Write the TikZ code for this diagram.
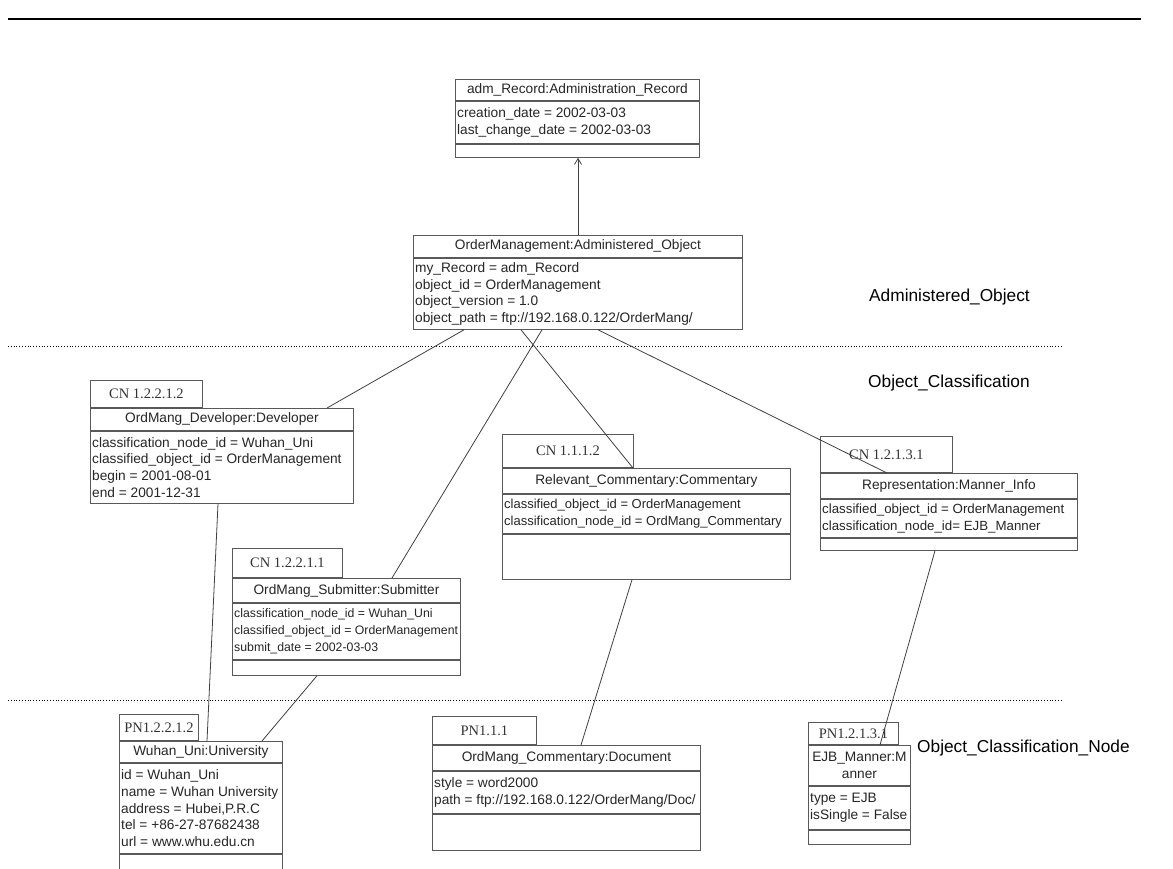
\documentclass[tikz,border=0pt]{standalone}
\usepackage{fontspec}
\newfontfamily\umlfont{Liberation Sans}
\newfontfamily\tabfont{Liberation Serif}
\usetikzlibrary{arrows.meta}

\begin{document}
\begin{tikzpicture}[x=1pt, y=-1pt,
    comp/.style  ={draw=black!65, line width=0.9pt, fill=white, anchor=north west, inner sep=0pt,
                   font=\umlfont\fontsize{13.7}{16.7}\selectfont, text=black!85},
    attr/.style  ={anchor=west, align=left, inner sep=0pt, text=black!85,
                   font=\umlfont\fontsize{#1}{16.7}\selectfont},
    attr/.default=13.7,
    tabbox/.style={draw=black!65, line width=0.9pt, fill=white, anchor=south west, inner sep=0pt,
                   font=\tabfont\fontsize{14.5}{16}\selectfont, text=black!80},
    conn/.style  ={draw=black!75, line width=0.8pt},
    layer/.style ={anchor=west, inner sep=0pt, font=\umlfont\fontsize{17.3}{20}\selectfont},
  ]
  \useasboundingbox (0,0) rectangle (1173,868);
  \draw[line width=2.5pt] (8,19) -- (1141,19);

  % layer separators and names
  \draw[dotted, line width=0.8pt] (8,346) -- (1063,346);
  \draw[dotted, line width=0.8pt] (8,700) -- (1063,700);
  \node[layer] (lao) at (869,297) {Administered\_Object};
  \node[layer] (loc) at (868,383) {Object\_Classification};
  \node[layer] (locn) at (917,748) {Object\_Classification\_Node};

  % adm_Record
  \node[comp, minimum width=244pt, minimum height=21pt] (admt) at (455,79) {adm\_Record:Administration\_Record};
  \node[comp, minimum width=244pt, minimum height=42pt] (adma) at (admt.south west) {};
  \node[attr] at ([xshift=2pt]adma.west) {creation\_date = 2002-03-03\\last\_change\_date = 2002-03-03};
  \node[comp, minimum width=244pt, minimum height=13pt] (admo) at (adma.south west) {};

  % OrderManagement
  \node[comp, minimum width=329pt, minimum height=22pt] (omt) at (413,235) {OrderManagement:Administered\_Object};
  \node[comp, minimum width=329pt, minimum height=71pt] (oma) at (omt.south west) {};
  \node[attr] at ([xshift=2pt]oma.west) {my\_Record = adm\_Record\\object\_id = OrderManagement\\object\_version = 1.0\\object\_path = ftp://192.168.0.122/OrderMang/};

  % Developer
  \node[comp, minimum width=263pt, minimum height=22pt] (devt) at (90,408) {OrdMang\_Developer:Developer};
  \node[tabbox, minimum width=112pt, minimum height=27pt] (devtab) at (devt.north west) {CN 1.2.2.1.2};
  \node[comp, minimum width=263pt, minimum height=72pt] (deva) at (devt.south west) {};
  \node[attr] at ([xshift=2pt]deva.west) {classification\_node\_id = Wuhan\_Uni\\classified\_object\_id = OrderManagement\\begin = 2001-08-01\\end = 2001-12-31};

  % Submitter
  \node[comp, minimum width=228pt, minimum height=24pt] (subt) at (232,578) {OrdMang\_Submitter:Submitter};
  \node[tabbox, minimum width=110pt, minimum height=29pt] (subtab) at (subt.north west) {CN 1.2.2.1.1};
  \node[comp, minimum width=228pt, minimum height=56pt] (suba) at (subt.south west) {};
  \node[attr=12.3] at ([xshift=2pt]suba.west) {classification\_node\_id = Wuhan\_Uni\\classified\_object\_id = OrderManagement\\submit\_date = 2002-03-03};
  \node[comp, minimum width=228pt, minimum height=15pt] (subo) at (suba.south west) {};

  % Commentary
  \node[comp, minimum width=288pt, minimum height=25pt] (comt) at (502,468) {Relevant\_Commentary:Commentary};
  \node[tabbox, minimum width=131pt, minimum height=33pt] (comtab) at (comt.north west) {CN 1.1.1.2};
  \node[comp, minimum width=288pt, minimum height=39pt] (coma) at (comt.south west) {};
  \node[attr=13] at ([xshift=2pt]coma.west) {classified\_object\_id = OrderManagement\\classification\_node\_id = OrdMang\_Commentary};
  \node[comp, minimum width=288pt, minimum height=45pt] (como) at (coma.south west) {};

  % Manner_Info
  \node[comp, minimum width=257pt, minimum height=25pt] (mant) at (820,473) {Representation:Manner\_Info};
  \node[tabbox, minimum width=132pt, minimum height=36pt] (mantab) at (mant.north west) {CN 1.2.1.3.1};
  \node[comp, minimum width=257pt, minimum height=38pt] (mana) at (mant.south west) {};
  \node[attr=13.3] at ([xshift=2pt]mana.west) {classified\_object\_id = OrderManagement\\classification\_node\_id= EJB\_Manner};
  \node[comp, minimum width=257pt, minimum height=12pt] (mano) at (mana.south west) {};

  % University
  \node[comp, minimum width=163pt, minimum height=21pt] (unit) at (119,741) {Wuhan\_Uni:University};
  \node[tabbox, minimum width=79pt, minimum height=26pt] (unitab) at (unit.north west) {PN1.2.2.1.2};
  \node[comp, minimum width=163pt, minimum height=90pt] (unia) at (unit.south west) {};
  \node[attr] at ([xshift=2pt]unia.west) {id = Wuhan\_Uni\\name = Wuhan University\\address = Hubei,P.R.C\\tel = +86-27-87682438\\url = www.whu.edu.cn};
  \node[comp, minimum width=163pt, minimum height=15pt] (unio) at (unia.south west) {};

  % Document
  \node[comp, minimum width=268pt, minimum height=25pt] (doct) at (432,745) {OrdMang\_Commentary:Document};
  \node[tabbox, minimum width=104pt, minimum height=28pt] (doctab) at (doct.north west) {PN1.1.1};
  \node[comp, minimum width=268pt, minimum height=42pt] (doca) at (doct.south west) {};
  \node[attr] at ([xshift=2pt]doca.west) {style = word2000\\path = ftp://192.168.0.122/OrderMang/Doc/};
  \node[comp, minimum width=268pt, minimum height=36pt] (doco) at (doca.south west) {};

  % EJB_Manner
  \node[comp, minimum width=102pt, minimum height=40pt, align=center] (ejbt) at (808,745) {EJB\_Manner:M\\anner};
  \node[tabbox, minimum width=90pt, minimum height=22pt] (ejbtab) at (ejbt.north west) {PN1.2.1.3.1};
  \node[comp, minimum width=102pt, minimum height=43pt] (ejba) at (ejbt.south west) {};
  \node[attr] at ([xshift=2pt]ejba.west) {type = EJB\\isSingle = False};
  \node[comp, minimum width=102pt, minimum height=14pt] (ejbo) at (ejba.south west) {};

  % links
  \draw[conn, -{Straight Barb[length=6pt,width=7pt]}] ([xshift=165pt]omt.north west) -- ([xshift=123pt]admo.south west);
  \draw[conn] ([xshift=51pt]oma.south west) -- ([xshift=237pt]devt.north west);
  \draw[conn] ([xshift=129pt]oma.south west) -- ([xshift=160pt]subt.north west);
  \draw[conn] ([xshift=108pt]oma.south west) -- ([xshift=131pt]comt.north west);
  \draw[conn] ([xshift=185pt]oma.south west) -- ([xshift=67pt]mant.north west);
  \draw[conn] ([xshift=128pt]deva.south west) -- ([xshift=88pt]unit.north west);
  \draw[conn] ([xshift=85pt]subo.south west) -- ([xshift=143pt]unit.north west);
  \draw[conn] ([xshift=130pt]como.south west) -- ([xshift=149pt]doct.north west);
  \draw[conn] ([xshift=115pt]mano.south west) -- ([xshift=72pt]ejbt.north west);
\end{tikzpicture}
\end{document}
